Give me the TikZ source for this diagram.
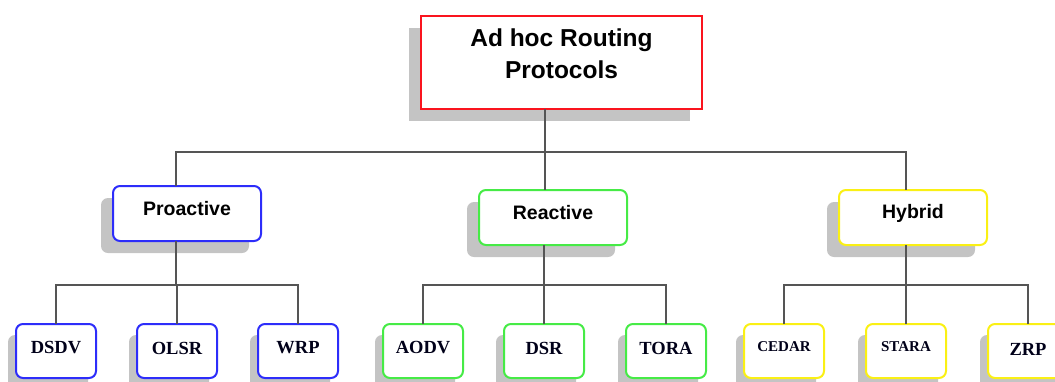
\documentclass[tikz,border=0pt]{standalone}
\usepackage{fontspec}
\newfontfamily\arialf{Liberation Sans}
\newfontfamily\timesf{Liberation Serif}
\usetikzlibrary{shadows}
\definecolor{cred}{RGB}{250,20,30}
\definecolor{cblue}{RGB}{45,45,250}
\definecolor{cgreen}{RGB}{70,235,70}
\definecolor{cyellow}{RGB}{250,240,20}
\definecolor{cshadow}{RGB}{196,196,196}
\definecolor{cline}{RGB}{85,85,85}
\tikzset{
  box/.style={draw, line width=2pt, fill=white, inner sep=0pt, outer sep=0pt,
    drop shadow={shadow xshift=-12pt, shadow yshift=-12pt, fill=cshadow, opacity=1}},
  rootbox/.style={box, draw=cred, minimum width=281pt, minimum height=93pt},
  midbox/.style={box, rounded corners=7pt, minimum width=148pt, minimum height=55pt},
  leafbox/.style={draw, line width=2pt, fill=white, inner sep=0pt, outer sep=0pt, rounded corners=7pt,
    minimum width=80pt, minimum height=54pt,
    drop shadow={shadow xshift=-8pt, shadow yshift=-11pt, fill=cshadow, opacity=1}},
  roottxt/.style={font=\arialf\bfseries\fontsize{24.5}{32}\selectfont, align=center, inner sep=0pt},
  midtxt/.style={font=\arialf\bfseries\fontsize{19.5}{22}\selectfont, inner sep=0pt},
  leaftxt/.style={font=\timesf\bfseries\fontsize{18.5}{22}\selectfont, inner sep=0pt, text=black!90!blue},
  smalltxt/.style={font=\timesf\bfseries\fontsize{15}{18}\selectfont, inner sep=0pt, text=black!90!blue},
  conn/.style={draw=cline, line width=1.5pt},
}
\begin{document}
\begin{tikzpicture}[x=1pt,y=-1pt]
\useasboundingbox (0,0) rectangle (1055,381);
\clip (0,0) rectangle (1055,381);
% boxes
\node[rootbox] (root) at (561.5,62.5) {};
\node[roottxt] (roott) at ([yshift=8.5pt]root.center) {Ad hoc Routing\\Protocols};

\node[midbox, draw=cblue] (pro) at (187,213.5) {};
\node[midtxt] (prot) at ([yshift=5pt]pro.center) {Proactive};
\node[midbox, draw=cgreen] (rea) at (553,217.5) {};
\node[midtxt] (reat) at ([yshift=4.5pt]rea.center) {Reactive};
\node[midbox, draw=cyellow] (hyb) at (913,217.5) {};
\node[midtxt] (hybt) at ([yshift=4.5pt]hyb.center) {Hybrid};

\node[leafbox, draw=cblue] (dsdv) at (56,351) {};
\node[leaftxt] (dsdvt) at ([yshift=3pt]dsdv.center) {DSDV};
\node[leafbox, draw=cblue] (olsr) at (177,351) {};
\node[leaftxt] (olsrt) at ([yshift=3pt]olsr.center) {OLSR};
\node[leafbox, draw=cblue] (wrp) at (298,351) {};
\node[leaftxt] (wrpt) at ([yshift=3pt]wrp.center) {WRP};

\node[leafbox, draw=cgreen] (aodv) at (423,351) {};
\node[leaftxt] (aodvt) at ([yshift=3pt]aodv.center) {AODV};
\node[leafbox, draw=cgreen] (dsr) at (544,351) {};
\node[leaftxt] (dsrt) at ([yshift=3pt]dsr.center) {DSR};
\node[leafbox, draw=cgreen] (tora) at (666,351) {};
\node[leaftxt] (torat) at ([yshift=3pt]tora.center) {TORA};

\node[leafbox, draw=cyellow] (cedar) at (784,351) {};
\node[smalltxt] (cedart) at ([yshift=4pt]cedar.center) {CEDAR};
\node[leafbox, draw=cyellow] (stara) at (906,351) {};
\node[smalltxt] (starat) at ([yshift=4pt]stara.center) {STARA};
\node[leafbox, draw=cyellow] (zrp) at (1028,351) {};
\node[leaftxt] (zrpt) at ([yshift=2pt]zrp.center) {ZRP};

% junction coordinates
\coordinate (p1) at (176,152);
\coordinate (r1) at (545,152);
\coordinate (h1) at (906,152);
\coordinate (p2) at (176,285);
\coordinate (r2) at (544,285);
\coordinate (h2) at (906,285);

% connectors
\draw[conn] (root.south -| r1) -- (r1);
\draw[conn] (pro.north -| p1) -- (p1) -- (h1) -- (hyb.north -| h1);
\draw[conn] (r1) -- (rea.north -| r1);

\draw[conn] (pro.south -| p2) -- (p2);
\draw[conn] (dsdv.north) -- (dsdv.north |- p2) -- (wrp.north |- p2) -- (wrp.north);
\draw[conn] (olsr.north) -- (olsr.north |- p2);

\draw[conn] (rea.south -| r2) -- (r2);
\draw[conn] (aodv.north) -- (aodv.north |- r2) -- (tora.north |- r2) -- (tora.north);
\draw[conn] (dsr.north) -- (dsr.north |- r2);

\draw[conn] (hyb.south -| h2) -- (h2);
\draw[conn] (cedar.north) -- (cedar.north |- h2) -- (zrp.north |- h2) -- (zrp.north);
\draw[conn] (stara.north) -- (stara.north |- h2);
\end{tikzpicture}
\end{document}
